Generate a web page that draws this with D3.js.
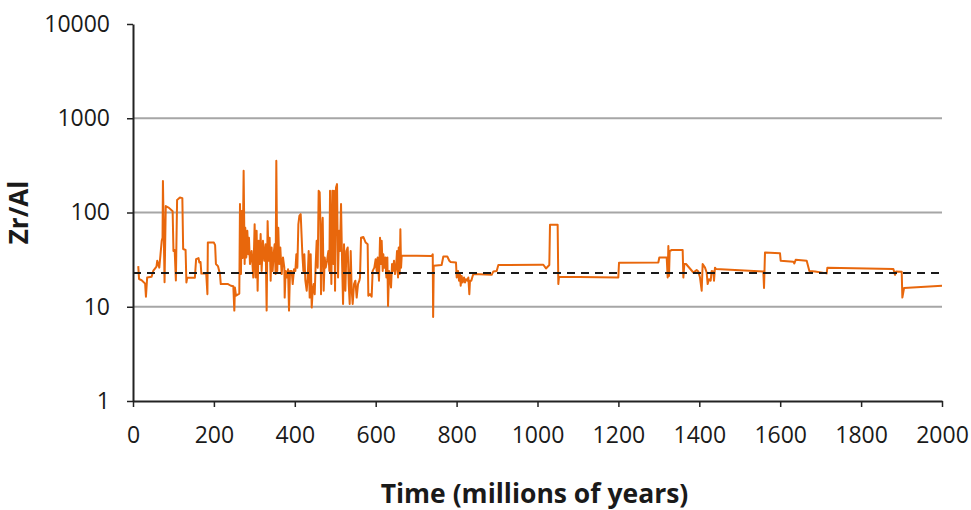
<!DOCTYPE html>
<html>
<head>
<meta charset="utf-8">
<script src="https://cdn.jsdelivr.net/npm/d3@7"></script>
<style>
  html, body { margin: 0; padding: 0; background: #ffffff; }
  svg { display: block; }
</style>
</head>
<body>
<svg id="chart" width="971" height="510"></svg>
<script>
// ---- data ----
const ages = [
  13, 15, 22, 30, 32, 35, 46, 50, 58, 60, 65, 71, 73, 74, 78, 81, 89, 98, 100, 103,
  106, 109, 116, 122, 124, 130, 132, 134, 153, 156, 162, 164, 167, 169, 181, 184, 185, 200, 203, 205,
  210, 215, 217, 235, 242, 248, 250.5, 252, 254.6, 262.8,
  264.5, 266.9, 268.6, 271.1, 273.5, 276, 277.6, 280.1, 282.6, 285.1, 286.7, 289.2, 293.3, 297.4, 300.7, 303.2,
  305.6, 308.1, 310.6, 313.1, 315.5, 318, 321.3, 324.6, 327.9, 330.4, 332.8, 335.3, 337.8, 340.3, 342.7, 345.2,
  347.7, 350.1, 352.6, 354.3, 356.7, 359.2, 361.7, 364.2, 367.5, 370.8, 374.1,
  375, 377.4, 379.9, 383.3, 385.7, 388.2, 392.3, 394.8, 398.1, 401.4, 403.8, 406.3, 408.8, 411.3, 414.6, 417,
  418.7, 421.2, 423.6, 426.1, 429.4, 431.9, 434.3, 436.8, 439.3, 441.8, 444.2, 446.7, 449.2, 451.6, 454.1, 456.6,
  459, 461.5, 463.2, 464.8, 466.5, 469, 471.4, 473.9, 476.4, 479.7, 483, 485.4, 487.1, 490.4, 492.9, 495.3,
  497, 499.5, 501.9, 504.4, 506.9, 509.4, 511.8, 514.3, 516.8, 519.3, 521.7, 525, 527.5, 530.8, 533.3, 535.7,
  538.2, 540.7, 543.1, 546.4, 549.7, 553, 556.3, 559.6,
  561.2, 563.7, 569.4, 575.2, 580.1, 581.8, 585.9, 590, 592.5, 596.6, 599.9, 602.4, 604.9, 608.2, 610.7, 613.1,
  614.8, 617.3, 618.9, 621.4, 623.9, 626.4, 628.8, 630.5, 633, 635.4, 637.9, 640.4, 642.9, 645.3, 647.8, 650.3,
  652.7, 655.2, 656.9, 659.4, 661, 662.7, 664.3, 738.5, 741, 742, 743.5,
  763, 767.2, 777, 782, 785.3, 798.5, 800.2, 803.5, 806, 808.4, 810.1, 812.5, 815, 818.3, 820.8, 823.3,
  826.5, 829, 831.5, 833.1, 836.4, 839.7, 841.4, 886.7, 890.9, 899.1, 903.2, 1006.2,
  1014.4, 1021, 1029.2, 1030.9, 1049.8, 1051.5, 1053.1, 1199.8, 1201.5, 1298.7, 1301.2, 1319.4, 1321.8, 1323.5, 1325.1, 1326.8,
  1331.7, 1358.9, 1360.6, 1363, 1367.2, 1385.3, 1393.5, 1397.6,
  1401.7, 1405.9, 1408.3, 1414.1, 1418.2, 1420.7, 1424, 1428.1, 1430.6, 1434.7, 1436.4, 1438.8, 1441.3, 1558.3, 1560, 1562.4,
  1599.5, 1601.2, 1632.5, 1635, 1638.3, 1665.5, 1672.1, 1686.1, 1715, 1716.6, 1879.8, 1883.9, 1886.4, 1900.4, 1902, 1906.2,
  2000
];
const zrAl = [
  27, 19.7, 19, 17.6, 12.8, 20.4, 20.8, 24, 26.6, 30.8, 26, 50, 54, 216, 18.2, 117, 112, 103, 39, 40,
  19, 136, 144, 142, 41, 40, 18.1, 20.3, 20.3, 32, 32.8, 29.5, 29.8, 22.5, 22.6, 13.6, 48, 48, 45, 28.4,
  27, 22.2, 17.4, 17.4, 16.7, 16.5, 9.1, 16, 13.1, 13.8,
  123, 22.2, 104, 33, 277, 28.4, 69, 33.4, 64, 36, 54, 28.4, 39, 20.4, 75, 20.4,
  64, 14.8, 50, 28.4, 59, 24, 50, 30.8, 46, 9.1, 81, 30.8, 54, 18.9, 42.6, 24,
  36, 46, 22.2, 354, 24, 69, 28.4, 42.6, 22.2, 33.4, 26,
  12.5, 24, 20.4, 25, 9.1, 24, 24, 17.4, 25, 24, 36, 26, 75, 92, 96, 54,
  36, 24, 36, 18.9, 14.8, 20.4, 39, 12.5, 36, 9.8, 14.8, 17.4, 13.6, 28.4, 50, 26,
  170, 164, 81, 13.6, 54, 88, 14.8, 33.4, 26, 30.8, 39, 24, 170, 17.4, 170, 28.4,
  170, 14.8, 184, 200, 20.4, 64, 39, 123, 30.8, 10.7, 46, 14.8, 39, 42.6, 17.4, 10.7,
  39, 14.8, 10.7, 17.4, 18.9, 12.5, 17.4, 18.9,
  20.4, 54, 55, 48, 46, 13.1, 13.6, 12.8, 24, 26, 32, 24, 33.4, 18.9, 54, 28.4,
  50, 24, 36, 26, 33.4, 20.4, 33.4, 10.2, 24, 20.4, 16, 28.4, 24, 30.8, 22.2, 26,
  39, 20.4, 42.6, 22.2, 66.5, 26, 35, 34.5, 36, 7.8, 27.2,
  27.7, 34.1, 34.1, 30.8, 29.8, 29.5, 20.4, 24, 18.9, 22.2, 16.7, 21.2, 18.1, 20.4, 18.1, 19.6,
  18.9, 20.4, 13.6, 18.9, 18.9, 21.2, 22.2, 21.8, 23.7, 24, 27.7, 27.9,
  27.9, 25.5, 27.7, 74, 74, 17.4, 20.8, 20.4, 29.3, 29.5, 33.3, 33.3, 20.4, 44, 21.2, 39,
  40, 40, 20.4, 28.4, 28.4, 23.1, 24.5, 23.7,
  20.4, 14.8, 28.4, 26, 23.1, 17.4, 19.6, 18.9, 24, 23.7, 18.9, 26, 25.1, 23.7, 15.8, 37.6,
  37, 30.8, 30, 28.8, 31.5, 30.8, 24, 23.7, 22.6, 26, 25.1, 21.8, 23.7, 23.5, 12.5, 15.8,
  16.7
];
const referenceLevel = 22.8;
const xTicks = [0, 200, 400, 600, 800, 1000, 1200, 1400, 1600, 1800, 2000];
const yTicks = [1, 10, 100, 1000, 10000];
const gridValues = [10, 100, 1000];
const xTitle = "Time (millions of years)";
const yTitle = "Zr/Al";

if (ages.length !== zrAl.length) {
  throw new Error("length mismatch " + ages.length + " vs " + zrAl.length);
}

// ---- layout ----
const svg = d3.select("#chart");
const plotL = 133, plotR = 942, plotT = 24, plotB = 401;
const fontFam = "'Open Sans', 'Noto Sans', 'DejaVu Sans', sans-serif";

const x = d3.scaleLinear().domain([0, 2000]).range([plotL, plotR]);
const y = d3.scaleLog().domain([1, 10000]).range([plotB, plotT]);

// gridlines
svg.append("g")
  .selectAll("line")
  .data(gridValues)
  .join("line")
  .attr("x1", plotL).attr("x2", plotR)
  .attr("y1", d => y(d)).attr("y2", d => y(d))
  .attr("stroke", "#a6a6a6")
  .attr("stroke-width", 2);

// data line
const points = ages.map((a, i) => [a, zrAl[i]]);
svg.append("path")
  .datum(points)
  .attr("fill", "none")
  .attr("stroke", "#e8670c")
  .attr("stroke-width", 2)
  .attr("stroke-linejoin", "round")
  .attr("d", d3.line().x(d => x(d[0])).y(d => y(d[1])));

// dashed reference line
svg.append("line")
  .attr("x1", plotL).attr("x2", plotR)
  .attr("y1", y(referenceLevel)).attr("y2", y(referenceLevel))
  .attr("stroke", "#1a1a1a")
  .attr("stroke-width", 2)
  .attr("stroke-dasharray", "8,6");

// axes
const yAxis = d3.axisLeft(y).tickValues(yTicks).tickFormat(d3.format("d"))
  .tickSize(6).tickSizeOuter(0).tickPadding(17);
const gy = svg.append("g").attr("transform", `translate(${plotL},0)`).call(yAxis);

const xAxis = d3.axisBottom(x).tickValues(xTicks).tickFormat(d3.format("d"))
  .tickSize(6).tickSizeOuter(0).tickPadding(20);
const gx = svg.append("g").attr("transform", `translate(0,${plotB})`).call(xAxis);

[gx, gy].forEach(g => {
  g.select(".domain").attr("stroke", "#222").attr("stroke-width", 2);
  g.selectAll(".tick line").attr("stroke", "#222").attr("stroke-width", 1.5);
  g.selectAll(".tick text")
    .attr("fill", "#1a1a1a")
    .style("font-family", fontFam)
    .style("font-size", "23px");
});

// titles
svg.append("text")
  .attr("x", (plotL + plotR) / 2 - 3)
  .attr("y", 503)
  .attr("text-anchor", "middle")
  .style("font-family", fontFam)
  .style("font-size", "26.5px")
  .style("font-weight", "bold")
  .attr("fill", "#1a1a1a")
  .text(xTitle);

svg.append("text")
  .attr("transform", `translate(28,${y(100)}) rotate(-90)`)
  .attr("text-anchor", "middle")
  .style("font-family", fontFam)
  .style("font-size", "26px")
  .style("font-weight", "bold")
  .attr("fill", "#1a1a1a")
  .text(yTitle);
</script>
</body>
</html>
